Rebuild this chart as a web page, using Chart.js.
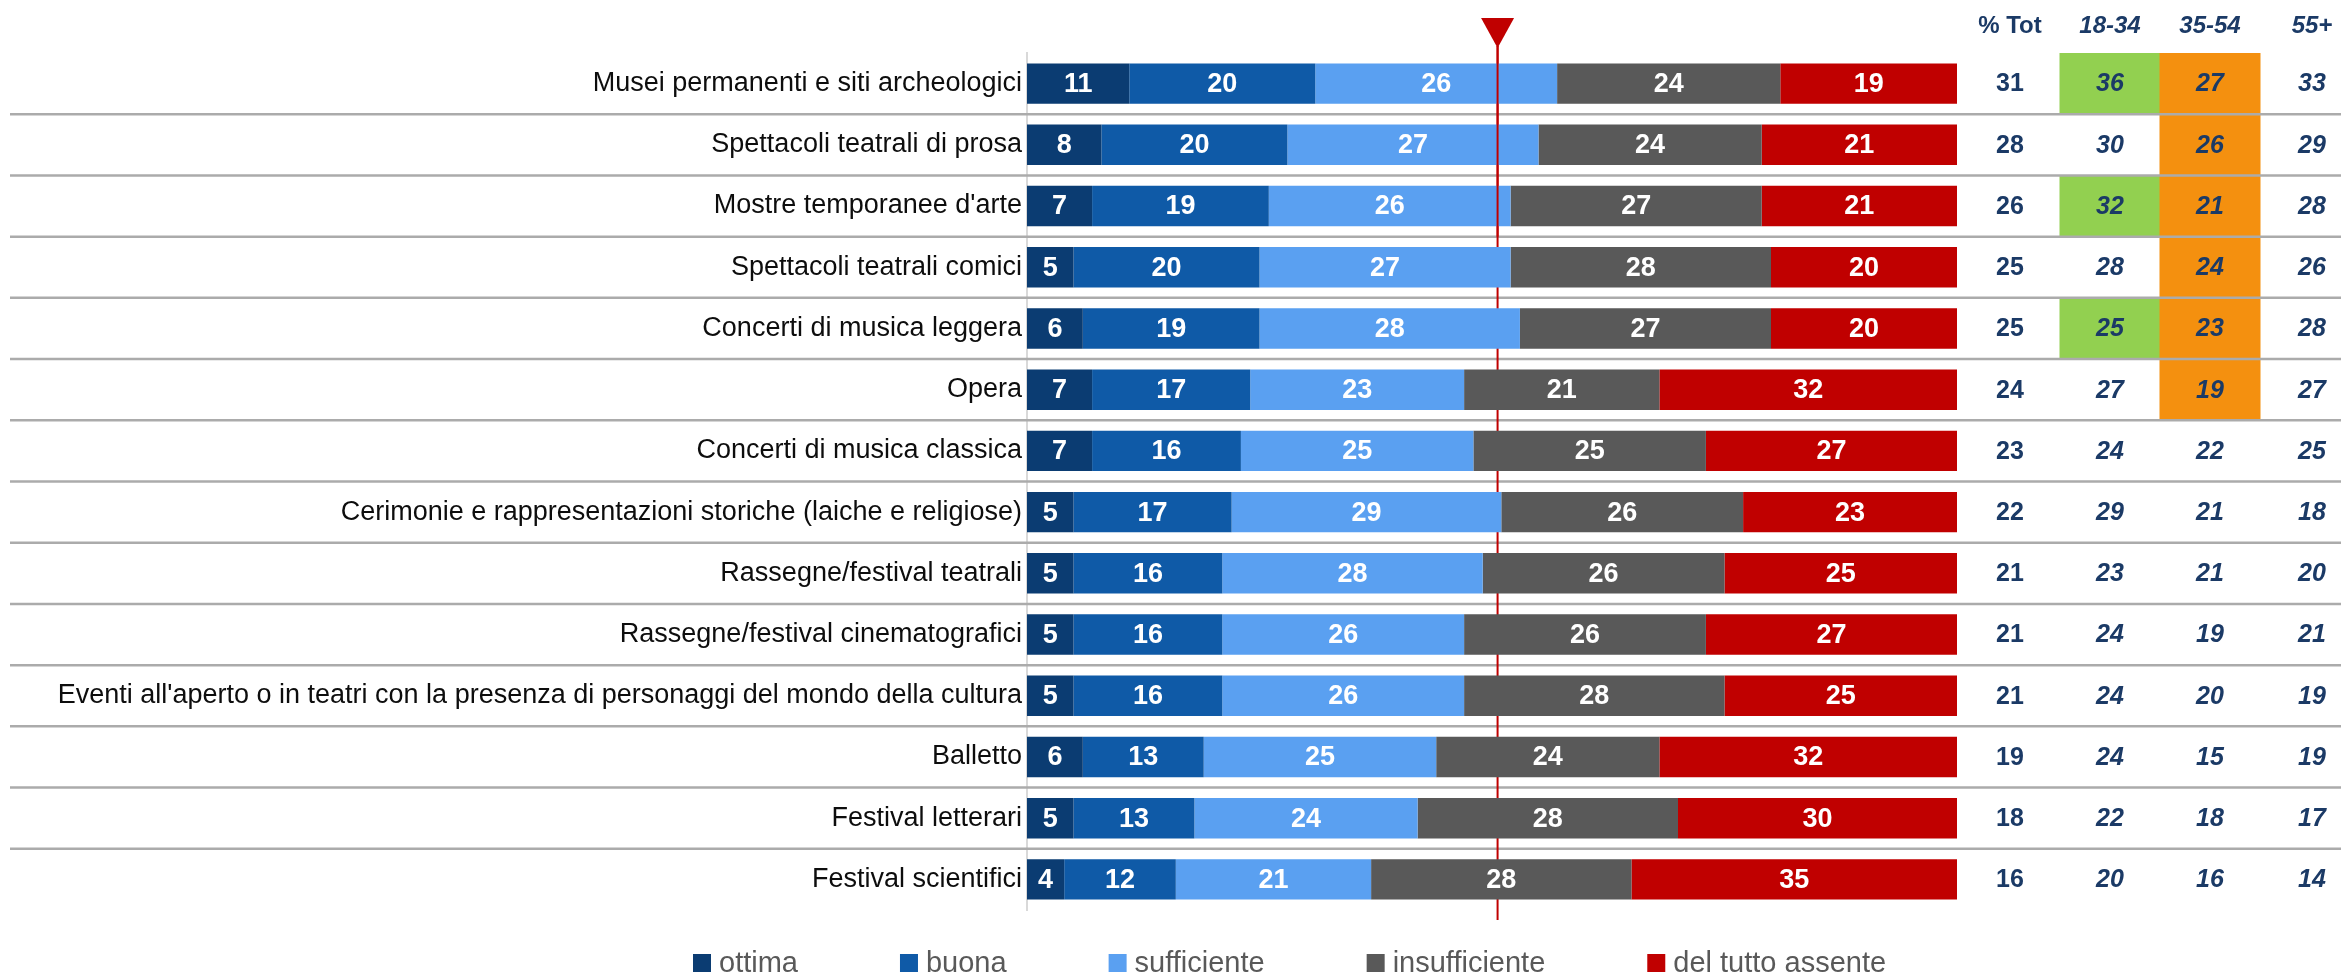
<!DOCTYPE html>
<html>
<head>
<meta charset="utf-8">
<script src="https://cdn.jsdelivr.net/npm/chart.js@4"></script>
<style>
  html, body { margin: 0; padding: 0; background: #fff; }
  #wrap { width: 2341px; height: 974px; }
</style>
</head>
<body>
<div id="wrap"><canvas id="qualitaChart" width="2341" height="974"></canvas></div>
<script>
const categories = [
  "Musei permanenti e siti archeologici",
  "Spettacoli teatrali di prosa",
  "Mostre temporanee d'arte",
  "Spettacoli teatrali comici",
  "Concerti di musica leggera",
  "Opera",
  "Concerti di musica classica",
  "Cerimonie e rappresentazioni storiche (laiche e religiose)",
  "Rassegne/festival teatrali",
  "Rassegne/festival cinematografici",
  "Eventi all'aperto o in teatri con la presenza di personaggi del mondo della cultura",
  "Balletto",
  "Festival letterari",
  "Festival scientifici"
];

// giudizio sull'offerta (%)
const ottima        = [11, 8, 7, 5, 6, 7, 7, 5, 5, 5, 5, 6, 5, 4];
const buona         = [20, 20, 19, 20, 19, 17, 16, 17, 16, 16, 16, 13, 13, 12];
const sufficiente   = [26, 27, 26, 27, 28, 23, 25, 29, 28, 26, 26, 25, 24, 21];
const insufficiente = [24, 24, 27, 28, 27, 21, 25, 26, 26, 26, 28, 24, 28, 28];
const assente       = [19, 21, 21, 20, 20, 32, 27, 23, 25, 27, 25, 32, 30, 35];

// colonne a destra: totale e fasce d'età
const colonne  = ["% Tot", "18-34", "35-54", "55+"];
const totale   = [31, 28, 26, 25, 25, 24, 23, 22, 21, 21, 21, 19, 18, 16];
const eta1834  = [36, 30, 32, 28, 25, 27, 24, 29, 23, 24, 24, 24, 22, 20];
const eta3554  = [27, 26, 21, 24, 23, 19, 22, 21, 21, 19, 20, 15, 18, 16];
const eta55    = [33, 29, 28, 26, 28, 27, 25, 18, 20, 21, 19, 19, 17, 14];
// 1 = sopra la media, -1 = sotto la media
const sig1834  = [1, 0, 1, 0, 1, 0, 0, 0, 0, 0, 0, 0, 0, 0];
const sig3554  = [-1, -1, -1, -1, -1, -1, 0, 0, 0, 0, 0, 0, 0, 0];
const sig55    = [0, 0, 0, 0, 0, 0, 0, 0, 0, 0, 0, 0, 0, 0];

// riferimento (triangolo rosso)
const soglia = 50.6;

const SANS = "'Liberation Sans', Arial, sans-serif";
const NAVY = "#1B3A66";
const COL_X = [2010, 2110, 2210, 2312];

const righeSeparatrici = {
  id: "righeSeparatrici",
  beforeDatasetsDraw(chart) {
    const { ctx } = chart;
    const y = chart.scales.y;
    const step = y.getPixelForValue(1) - y.getPixelForValue(0);

    // celle evidenziate della tabella
    const cellW = 101;
    [sig1834, sig3554, sig55].forEach((sig, c) => {
      sig.forEach((s, i) => {
        if (!s) return;
        const yc = y.getPixelForValue(i);
        ctx.fillStyle = s > 0 ? "#92D050" : "#F4900F";
        ctx.fillRect(COL_X[c + 1] - cellW / 2, yc - step / 2, cellW, step);
      });
    });

    ctx.save();
    ctx.strokeStyle = "#ababab";
    ctx.lineWidth = 2.5;
    for (let i = 0; i < categories.length - 1; i++) {
      const yy = y.getPixelForValue(i) + step / 2;
      ctx.beginPath();
      ctx.moveTo(10, yy);
      ctx.lineTo(chart.width, yy);
      ctx.stroke();
    }
    ctx.restore();
  }
};

const etichetteBarre = {
  id: "etichetteBarre",
  afterDatasetsDraw(chart) {
    const { ctx } = chart;
    ctx.save();
    ctx.fillStyle = "#ffffff";
    ctx.font = "bold 27px " + SANS;
    ctx.textAlign = "center";
    ctx.textBaseline = "middle";
    chart.data.datasets.forEach((ds, d) => {
      chart.getDatasetMeta(d).data.forEach((bar, i) => {
        const cx = (bar.x + bar.base) / 2;
        ctx.fillText(String(ds.data[i]), cx, bar.y + 1);
      });
    });
    ctx.restore();
  }
};

// linea verticale rossa: dietro alle barre, sopra solo nelle prime righe
function lineaSoglia(chart, y0, y1, dash) {
  const { ctx } = chart;
  const x = chart.scales.x.getPixelForValue(soglia);
  ctx.save();
  ctx.strokeStyle = "#C00000";
  ctx.lineWidth = 2;
  if (dash) ctx.setLineDash(dash);
  ctx.beginPath();
  ctx.moveTo(x, y0);
  ctx.lineTo(x, y1);
  ctx.stroke();
  ctx.restore();
}

const marcatore = {
  id: "marcatore",
  beforeDatasetsDraw(chart) {
    const { chartArea } = chart;
    lineaSoglia(chart, 46, chartArea.bottom);
    lineaSoglia(chart, chartArea.bottom, chartArea.bottom + 10, [10, 6]);
  },
  afterDatasetsDraw(chart) {
    const { ctx } = chart;
    const y = chart.scales.y;
    const step = y.getPixelForValue(1) - y.getPixelForValue(0);
    lineaSoglia(chart, 46, y.getPixelForValue(2) + step / 2);
    const x = chart.scales.x.getPixelForValue(soglia);
    ctx.save();
    ctx.fillStyle = "#C00000";
    ctx.beginPath();
    ctx.moveTo(x - 16.5, 18);
    ctx.lineTo(x + 16.5, 18);
    ctx.lineTo(x, 48);
    ctx.closePath();
    ctx.fill();
    ctx.restore();
  }
};

const tabella = {
  id: "tabella",
  afterDraw(chart) {
    const { ctx } = chart;
    const y = chart.scales.y;
    ctx.save();
    ctx.fillStyle = NAVY;
    ctx.textAlign = "center";
    ctx.textBaseline = "middle";
    colonne.forEach((t, c) => {
      ctx.font = (c === 0 ? "bold " : "italic bold ") + "24px " + SANS;
      ctx.fillText(t, COL_X[c], 26);
    });
    [totale, eta1834, eta3554, eta55].forEach((serie, c) => {
      ctx.font = (c === 0 ? "bold " : "italic bold ") + "25px " + SANS;
      serie.forEach((v, i) => {
        ctx.fillText(String(v), COL_X[c], y.getPixelForValue(i) + 1);
      });
    });
    ctx.restore();
  }
};

const legenda = {
  id: "legenda",
  afterDraw(chart) {
    const { ctx } = chart;
    const box = 18, gapTesto = 8, gapVoci = 102, yc = 963;
    let x = 693;
    ctx.save();
    ctx.font = "29px " + SANS;
    ctx.textBaseline = "middle";
    chart.data.datasets.forEach(ds => {
      const w = ctx.measureText(ds.label).width;
      ctx.fillStyle = ds.backgroundColor;
      ctx.fillRect(x, yc - box / 2, box, box);
      ctx.fillStyle = "#595959";
      ctx.fillText(ds.label, x + box + gapTesto, yc + 1);
      x += box + gapTesto + w + gapVoci;
    });
    ctx.restore();
  }
};

const serie = [
  { label: "ottima", data: ottima, color: "#0B3C72" },
  { label: "buona", data: buona, color: "#0F5AA7" },
  { label: "sufficiente", data: sufficiente, color: "#5AA0F1" },
  { label: "insufficiente", data: insufficiente, color: "#595959" },
  { label: "del tutto assente", data: assente, color: "#C00000" }
];

const ctx = document.getElementById("qualitaChart").getContext("2d");
new Chart(ctx, {
  type: "bar",
  data: {
    labels: categories,
    datasets: serie.map(s => ({
      label: s.label,
      data: s.data,
      backgroundColor: s.color,
      borderWidth: 0,
      barPercentage: 0.66,
      categoryPercentage: 1.0
    }))
  },
  options: {
    responsive: false,
    animation: false,
    indexAxis: "y",
    layout: { padding: { top: 53, bottom: 64, left: 0, right: 384 } },
    scales: {
      x: { stacked: true, min: 0, max: 100, display: false },
      y: {
        stacked: true,
        grid: { display: false, drawTicks: false },
        border: { display: true, color: "#d9d9d9", width: 2 },
        ticks: {
          autoSkip: false,
          padding: 5,
          color: "#0d0d0d",
          font: { family: SANS, size: 27 }
        },
        afterFit(scale) { scale.width = 1027; }
      }
    },
    plugins: {
      legend: { display: false },
      tooltip: { enabled: false }
    }
  },
  plugins: [righeSeparatrici, marcatore, etichetteBarre, tabella, legenda]
});
</script>
</body>
</html>
